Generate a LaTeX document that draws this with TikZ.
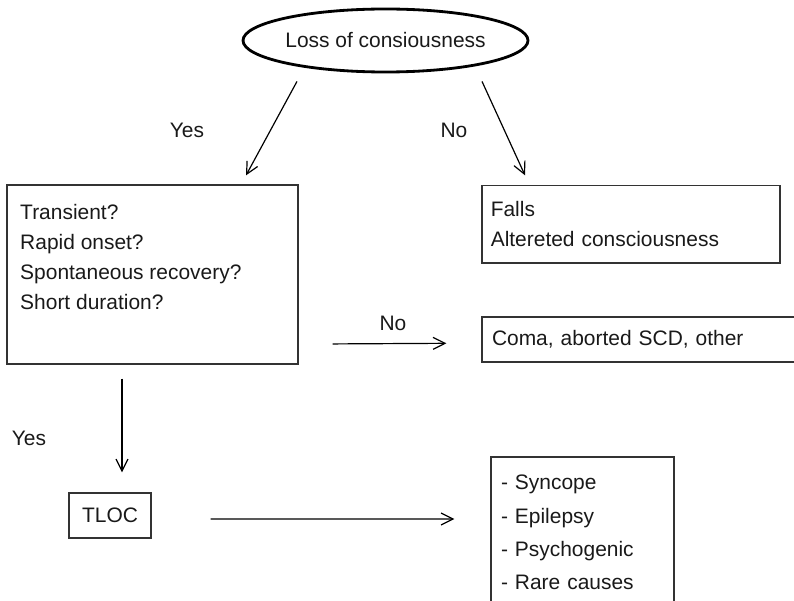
\documentclass[tikz,border=0pt]{standalone}
\usepackage{fontspec}
\setmainfont{Liberation Sans}
\usetikzlibrary{arrows.meta,shapes.geometric}

\begin{document}
\begin{tikzpicture}[
        box/.style={rectangle, draw=black!80, line width=0.9pt, inner sep=0pt},
        txt/.style={font=\fontsize{14.9}{21.5}\selectfont, text=black!90},
        arr/.style={-{Straight Barb[length=3mm,width=3mm]}, line width=0.85pt},
        ]
        \useasboundingbox (0,0) rectangle (19.85,15);

        \node (loc) at (9.6375,13.9875) [ellipse, draw=black, line width=2pt, minimum width=7.125cm, minimum height=1.575cm, inner sep=0pt, txt] {Loss of consiousness};
        \node (questions) at (3.8125,8.1375) [box, minimum width=7.275cm, minimum height=4.475cm] {};
        \node (qtext) at ([xshift=0.34cm,yshift=-0.48cm]questions.north west) [txt, align=left, anchor=north west, inner sep=0pt] {Transient?\\Rapid onset?\\Spontaneous recovery?\\Short duration?};
        \node (falls) at (15.775,9.394) [box, txt, minimum height=1.94cm, text width=7.01cm, inner xsep=0.22cm, align=left] {Falls\\Altereted consciousness};
        \node (coma) at (16.0,6.5125) [box, txt, minimum height=1.125cm, text width=7.4cm, inner xsep=0.25cm, align=left] {Coma, aborted SCD, other};
        \node (tloc) at (2.75,2.1125) [box, txt, minimum width=2.05cm, minimum height=1.125cm] {TLOC};
        \node (causes) at (14.5625,1.6875) [box, txt, font=\fontsize{14.9}{23.7}\selectfont, minimum height=3.775cm, text width=4.075cm, inner xsep=0.25cm, align=left] {- Syncope\\- Epilepsy\\- Psychogenic\\- Rare causes};

        \node (yestop) at (4.675,11.75) [txt] {Yes};
        \node (notop) at (11.35,11.75) [txt] {No};
        \node (nomid) at (9.825,6.925) [txt] {No};
        \node (yesmid) at (0.725,4.05) [txt] {Yes};

        \draw[arr] ([shift={(-2.2125,-0.2)}]loc.south) -- ([shift={(2.3375,0.225)}]questions.north);
        \draw[arr] ([shift={(2.4125,-0.2)}]loc.south) -- ([shift={(-2.65,0.2375)}]falls.north);
        \draw[arr] ([shift={(0.85,0.5175)}]questions.south east) -- ([shift={(-0.875,-0.095)}]coma.west);
        \draw[arr] ([shift={(-0.7625,-0.35)}]questions.south) -- ([shift={(0.3,0.5)}]tloc.north);
        \draw[arr] ([shift={(1.475,-0.0875)}]tloc.east) -- ([shift={(-0.9,0.3375)}]causes.west);
    \end{tikzpicture}
\end{document}
